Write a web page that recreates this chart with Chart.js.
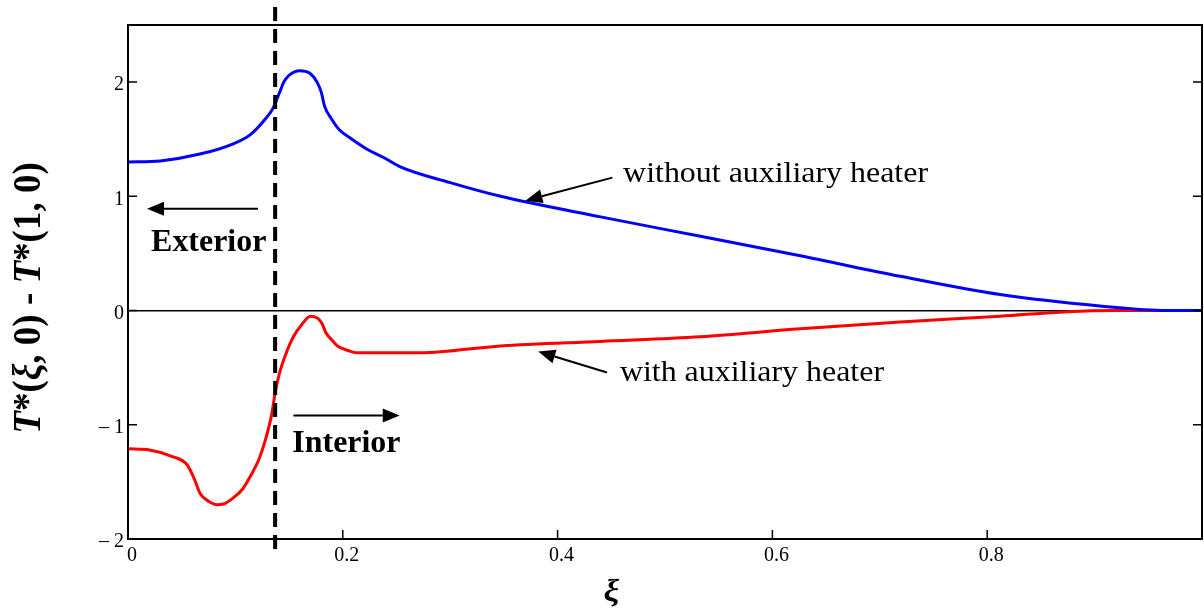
<!DOCTYPE html>
<html><head><meta charset="utf-8">
<script src="https://cdn.jsdelivr.net/npm/chart.js@4.4.0/dist/chart.umd.min.js"></script>
<style>html,body{margin:0;padding:0;background:#fff;}#wrap{width:1204px;height:608px;}</style>
</head><body><div id="wrap"><canvas id="c" width="1204" height="608"></canvas></div>
<script>
// ---- data ----
const xiBlue = [0, 0.030, 0.067, 0.098, 0.114, 0.129, 0.135, 0.139, 0.142, 0.145, 0.150, 0.155, 0.160, 0.169, 0.176, 0.180, 0.183, 0.190, 0.197, 0.207, 0.223, 0.238, 0.253, 0.300, 0.347, 0.440, 0.533, 0.626, 0.719, 0.812, 0.905, 0.968, 1.0];
const blueValues = [1.30, 1.31, 1.37, 1.46, 1.54, 1.69, 1.77, 1.86, 1.93, 2.00, 2.06, 2.09, 2.10, 2.08, 2.00, 1.91, 1.79, 1.67, 1.58, 1.51, 1.41, 1.34, 1.26, 1.12, 1.00, 0.82, 0.65, 0.48, 0.30, 0.14, 0.04, 0.0, 0.0];
const xiRed = [0, 0.020, 0.042, 0.055, 0.062, 0.067, 0.075, 0.083, 0.090, 0.098, 0.107, 0.114, 0.122, 0.128, 0.134, 0.137, 0.141, 0.147, 0.154, 0.162, 0.170, 0.177, 0.181, 0.184, 0.190, 0.195, 0.205, 0.213, 0.272, 0.347, 0.440, 0.533, 0.626, 0.719, 0.812, 0.875, 0.918, 1.0];
const redValues = [-1.21, -1.22, -1.28, -1.35, -1.48, -1.60, -1.67, -1.70, -1.69, -1.64, -1.56, -1.45, -1.30, -1.13, -0.90, -0.72, -0.55, -0.38, -0.23, -0.12, -0.05, -0.07, -0.12, -0.19, -0.26, -0.31, -0.35, -0.37, -0.37, -0.31, -0.27, -0.23, -0.16, -0.10, -0.05, -0.01, 0, 0];
const xTickValues = [0, 0.2, 0.4, 0.6, 0.8];
const xTickLabels = ['0', '0.2', '0.4', '0.6', '0.8'];
const yTickValues = [-2, -1, 0, 1, 2];
const yTickLabels = ['\u2013 2', '\u2013 1', '0', '1', '2'];
const seriesNames = ['without auxiliary heater', 'with auxiliary heater'];
const regionNames = ['Exterior', 'Interior'];
const boundaryXi = 0.137;

// ---- annotation anchors (data units) ----
const notes = [
  {text: seriesNames[0], bold: false, x: 0.461, y: 1.129, tail: [0.451, 1.164], head: [0.370, 0.962]},
  {text: seriesNames[1], bold: false, x: 0.458, y: -0.621, tail: [0.446, -0.542], head: [0.382, -0.359]},
  {text: regionNames[0], bold: true, x: 0.0215, y: 0.525, tail: [0.121, 0.892], head: [0.0177, 0.892]},
  {text: regionNames[1], bold: true, x: 0.153, y: -1.234, tail: [0.154, -0.919], head: [0.253, -0.919]}
];

const SERIF = '"Liberation Serif","Times New Roman",serif';
const toPts = (xs, ys) => xs.map((x, i) => ({x: x, y: ys[i]}));

function arrow(ctx, x1, y1, x2, y2) {
  const a = Math.atan2(y2 - y1, x2 - x1);
  const L = 17, W = 7;
  const bx = x2 - L * Math.cos(a), by = y2 - L * Math.sin(a);
  ctx.beginPath(); ctx.moveTo(x1, y1); ctx.lineTo(bx, by); ctx.lineWidth = 2; ctx.strokeStyle = '#000'; ctx.stroke();
  ctx.beginPath();
  ctx.moveTo(x2, y2);
  ctx.lineTo(bx + W * Math.sin(a), by - W * Math.cos(a));
  ctx.lineTo(bx - W * Math.sin(a), by + W * Math.cos(a));
  ctx.closePath(); ctx.fillStyle = '#000'; ctx.fill();
}

function fitText(ctx, text, font, width) {
  ctx.font = font;
  return width / ctx.measureText(text).width;
}

const decor = {
  id: 'decor',
  beforeDraw(chart) {
    const ctx = chart.ctx;
    ctx.save(); ctx.fillStyle = '#fff'; ctx.fillRect(0, 0, chart.width, chart.height); ctx.restore();
  },
  afterDatasetsDraw(chart) {
    const ctx = chart.ctx, xs = chart.scales.x, ys = chart.scales.y, a = chart.chartArea;
    ctx.save();
    // frame
    ctx.strokeStyle = '#000'; ctx.lineWidth = 2;
    ctx.strokeRect(a.left, a.top, a.right - a.left, a.bottom - a.top);
    // inward ticks
    ctx.lineWidth = 1.5;
    const TL = 9;
    yTickValues.forEach(v => {
      const p = ys.getPixelForValue(v);
      ctx.beginPath(); ctx.moveTo(a.left, p); ctx.lineTo(a.left + TL, p);
      ctx.moveTo(a.right, p); ctx.lineTo(a.right - TL, p); ctx.stroke();
    });
    xTickValues.forEach(v => {
      const p = xs.getPixelForValue(v);
      ctx.beginPath(); ctx.moveTo(p, a.bottom); ctx.lineTo(p, a.bottom - TL); ctx.stroke();
    });
    // dashed boundary
    const bx = xs.getPixelForValue(boundaryXi);
    ctx.beginPath(); ctx.setLineDash([14, 8]); ctx.lineWidth = 4;
    ctx.moveTo(bx, a.top - 18); ctx.lineTo(bx, a.bottom + 16); ctx.stroke();
    ctx.setLineDash([]);
    // annotations
    notes.forEach(n => {
      arrow(ctx, xs.getPixelForValue(n.tail[0]), ys.getPixelForValue(n.tail[1]),
                 xs.getPixelForValue(n.head[0]), ys.getPixelForValue(n.head[1]));
      ctx.save();
      ctx.translate(xs.getPixelForValue(n.x), ys.getPixelForValue(n.y));
      ctx.scale(n.bold ? 1.03 : 1.064, 1);
      ctx.font = (n.bold ? 'bold 31px ' : '30px ') + SERIF;
      ctx.fillStyle = '#000'; ctx.textAlign = 'left'; ctx.textBaseline = 'alphabetic';
      ctx.fillText(n.text, 0, 0);
      ctx.restore();
    });
    // x title
    ctx.save();
    ctx.translate(xs.getPixelForValue(0.45), a.bottom + 62);
    ctx.scale(1.1, 1);
    ctx.font = 'italic bold 32px ' + SERIF; ctx.textAlign = 'center'; ctx.textBaseline = 'alphabetic';
    ctx.fillStyle = '#000'; ctx.fillText('\u03BE', 0, 0);
    ctx.restore();
    // y title
    const segs = [['T', true], ['*(', false], ['\u03BE', true], [', 0) - ', false], ['T', true], ['*(1, 0)', false]];
    ctx.save();
    ctx.translate(40, (a.top + a.bottom) / 2 + 16);
    ctx.rotate(-Math.PI / 2);
    ctx.scale(1, 1.08);
    ctx.fillStyle = '#000'; ctx.textBaseline = 'alphabetic'; ctx.textAlign = 'left';
    const fonts = segs.map(s => (s[1] ? 'italic bold ' : 'bold ') + '37px ' + SERIF);
    let total = 0;
    segs.forEach((s, i) => { ctx.font = fonts[i]; total += ctx.measureText(s[0]).width; });
    let cx = -total / 2;
    segs.forEach((s, i) => { ctx.font = fonts[i]; ctx.fillText(s[0], cx, 0); cx += ctx.measureText(s[0]).width; });
    ctx.restore();
    ctx.restore();
  }
};

new Chart(document.getElementById('c'), {
  type: 'line',
  data: {
    datasets: [
      {label: seriesNames[0], data: toPts(xiBlue, blueValues), borderColor: '#0000ff', borderWidth: 3, pointRadius: 0, cubicInterpolationMode: 'monotone', fill: false},
      {label: seriesNames[1], data: toPts(xiRed, redValues), borderColor: '#ff0000', borderWidth: 3, pointRadius: 0, cubicInterpolationMode: 'monotone', fill: false}
    ]
  },
  options: {
    responsive: false, animation: false, devicePixelRatio: 1,
    layout: {padding: {top: 25, right: 2, left: 0, bottom: 0}},
    plugins: {legend: {display: false}, tooltip: {enabled: false}},
    scales: {
      x: {
        type: 'linear', min: 0, max: 1,
        afterBuildTicks: s => { s.ticks = xTickValues.map(v => ({value: v})); },
        afterFit: s => { s.height = 69; },
        ticks: {
          callback: v => { const i = xTickValues.indexOf(v); return i >= 0 ? xTickLabels[i] : ''; },
          font: {family: SERIF, size: 20}, color: '#000', padding: 5, labelOffset: 4,
          maxRotation: 0, autoSkip: false
        },
        grid: {display: false, drawTicks: false},
        border: {display: false}
      },
      y: {
        type: 'linear', min: -2, max: 2.5,
        afterBuildTicks: s => { s.ticks = yTickValues.map(v => ({value: v})); },
        afterFit: s => { s.width = 128; },
        ticks: {
          callback: v => { const i = yTickValues.indexOf(v); return i >= 0 ? yTickLabels[i] : ''; },
          font: {family: SERIF, size: 20}, color: '#000', padding: 4, labelOffset: 3, autoSkip: false
        },
        grid: {
          drawTicks: false,
          color: c => (c.tick && c.tick.value === 0) ? '#000' : 'rgba(0,0,0,0)',
          lineWidth: 1.5
        },
        border: {display: false}
      }
    }
  },
  plugins: [decor]
});
</script></body></html>
